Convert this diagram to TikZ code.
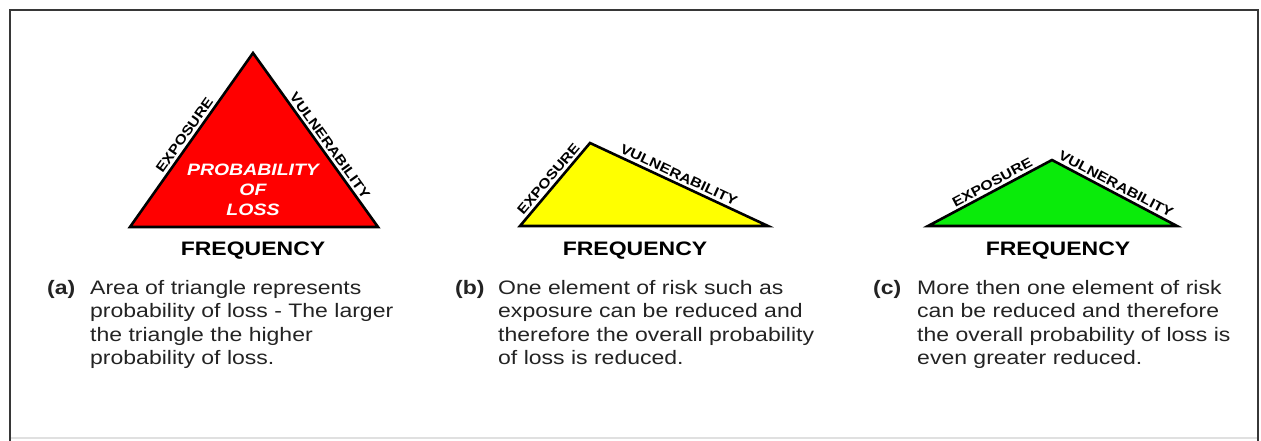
\documentclass[tikz,border=0pt]{standalone}
\usepackage{fontspec}
\setmainfont{Liberation Sans}[FakeStretch=1.18]
\definecolor{riskred}{RGB}{255,0,0}
\definecolor{riskyellow}{RGB}{255,255,0}
\definecolor{riskgreen}{RGB}{10,235,10}
\definecolor{framegray}{RGB}{55,55,55}
\definecolor{textgray}{RGB}{35,35,35}

\begin{document}
\begin{tikzpicture}[x=1pt, y=1pt,
  tri/.style={draw=black, line width=2.6pt, line join=miter},
  side/.style={font=\fontsize{13.5}{14}\selectfont\bfseries, sloped, above, inner sep=2.5pt},
  area/.style={font=\fontsize{16.5}{20}\selectfont\bfseries\itshape, text=white, align=center},
  freq/.style={font=\fontsize{19.5}{20}\selectfont\bfseries, anchor=base},
  tag/.style={font=\fontsize{19.5}{23.5}\selectfont\bfseries, text=textgray, anchor=north west, inner sep=0pt},
  desc/.style={font=\fontsize{19.5}{23.5}\selectfont, text=textgray, anchor=north west, inner sep=0pt, align=left}
]
  \useasboundingbox (0,0) rectangle (1261,-441);
  %% Frame
  \draw[framegray, line width=2pt] (10,-441) -- (10,-10) -- (1258,-10) -- (1258,-441);
  \draw[black!12, line width=2pt] (11,-438) -- (1257,-438);

  %% (a) full triangle
  \coordinate (a-l) at (130,-227);
  \coordinate (a-t) at (253,-53);
  \coordinate (a-r) at (378,-227);
  \filldraw[tri, fill=riskred] (a-l) -- node[side]{EXPOSURE} (a-t)
    -- node[side, pos=0.56]{VULNERABILITY} (a-r) -- cycle;
  \node[area] (a-area) at (253,-190) {PROBABILITY\\OF\\LOSS};
  \node[freq] (a-freq) at (253,-255) {FREQUENCY};
  \node[tag] (a-tag) at (47,-280) {(a)};
  \node[desc] (a-text) at (90,-280) {Area of triangle represents\\probability of loss - The larger\\the triangle the higher\\probability of loss.};

  %% (b) exposure reduced
  \coordinate (b-l) at (520,-226);
  \coordinate (b-t) at (590,-143);
  \coordinate (b-r) at (768,-226);
  \filldraw[tri, fill=riskyellow] (b-l) -- node[side]{EXPOSURE} (b-t)
    -- node[side, pos=0.48]{VULNERABILITY} (b-r) -- cycle;
  \node[freq] (b-freq) at (635,-255) {FREQUENCY};
  \node[tag] (b-tag) at (455,-280) {(b)};
  \node[desc] (b-text) at (498,-280) {One element of risk such as\\exposure can be reduced and\\therefore the overall probability\\of loss is reduced.};

  %% (c) more than one element reduced
  \coordinate (c-l) at (928,-226);
  \coordinate (c-t) at (1052,-160);
  \coordinate (c-r) at (1177,-226);
  \filldraw[tri, fill=riskgreen] (c-l) -- node[side, pos=0.55]{EXPOSURE} (c-t)
    -- node[side, pos=0.48]{VULNERABILITY} (c-r) -- cycle;
  \node[freq] (c-freq) at (1058,-255) {FREQUENCY};
  \node[tag] (c-tag) at (873,-280) {(c)};
  \node[desc] (c-text) at (917,-280) {More then one element of risk\\can be reduced and therefore\\the overall probability of loss is\\even greater reduced.};
\end{tikzpicture}
\end{document}
